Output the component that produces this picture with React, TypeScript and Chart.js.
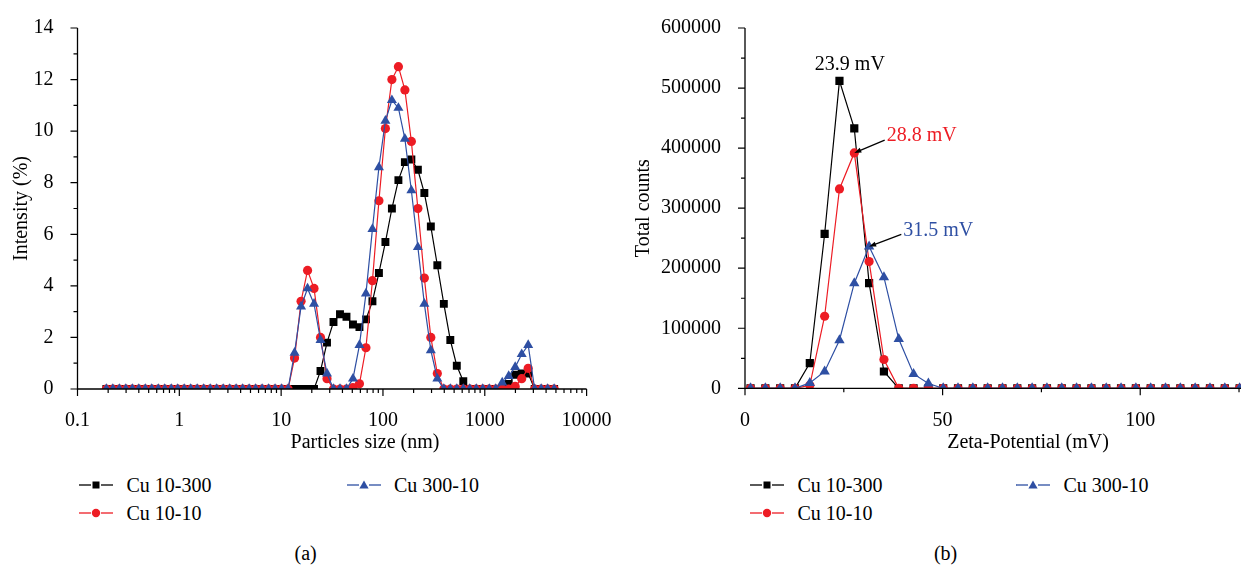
import { useEffect, useRef } from 'react';
import { Chart, registerables } from 'chart.js';

Chart.register(...registerables);

const SERIF = '"Liberation Serif", "Times New Roman", Times, serif';
const BLACK = '#000000';
const RED = '#ed1c24';
const BLUE = '#2e4fa3';

const seriesNames = ['Cu 10-300', 'Cu 10-10', 'Cu 300-10'];

// (a) Size distribution by intensity: size classes in nm
const sizeClasses = [
  0.1921, 0.2224, 0.2576, 0.2984, 0.3456, 0.4, 0.4632, 0.5365, 0.6213, 0.7195,
  0.8332, 0.9649, 1.117, 1.294, 1.499, 1.736, 2.01, 2.328, 2.696, 3.122,
  3.615, 4.187, 4.849, 5.615, 6.503, 7.531, 8.721, 10.1, 11.7, 13.54,
  15.69, 18.17, 21.04, 24.36, 28.21, 32.67, 37.84, 43.82, 50.75, 58.77,
  68.06, 78.82, 91.28, 105.7, 122.4, 141.8, 164.2, 190.1, 220.2, 255.0,
  295.3, 342.0, 396.1, 458.7, 531.2, 615.1, 712.4, 825.0, 955.4, 1106,
  1281, 1484, 1718, 1990, 2305, 2669, 3091, 3580, 4145, 4801,
];

// Intensity (%) per size class
const intensity10_300 = [
  0, 0, 0, 0, 0, 0, 0, 0, 0, 0,
  0, 0, 0, 0, 0, 0, 0, 0, 0, 0,
  0, 0, 0, 0, 0, 0, 0, 0, 0, 0,
  0, 0, 0, 0.7, 1.8, 2.6, 2.9, 2.8, 2.5, 2.4,
  2.7, 3.4, 4.5, 5.7, 7.0, 8.1, 8.8, 8.9, 8.5, 7.6,
  6.3, 4.8, 3.3, 1.9, 0.9, 0.3, 0, 0, 0, 0,
  0, 0, 0.2, 0.55, 0.6, 0.6, 0, 0, 0, 0,
];
const intensity10_10 = [
  0, 0, 0, 0, 0, 0, 0, 0, 0, 0,
  0, 0, 0, 0, 0, 0, 0, 0, 0, 0,
  0, 0, 0, 0, 0, 0, 0, 0, 0, 1.2,
  3.4, 4.6, 3.9, 2.0, 0.4, 0, 0, 0, 0.05, 0.2,
  1.6, 4.2, 7.3, 10.1, 12.0, 12.5, 11.6, 9.6, 7.0, 4.3,
  2.0, 0.6, 0, 0, 0, 0, 0, 0, 0, 0,
  0, 0, 0, 0.1, 0.4, 0.8, 0, 0, 0, 0,
];
const intensity300_10 = [
  0, 0, 0, 0, 0, 0, 0, 0, 0, 0,
  0, 0, 0, 0, 0, 0, 0, 0, 0, 0,
  0, 0, 0, 0, 0, 0, 0, 0, 0, 1.4,
  3.2, 3.9, 3.3, 1.9, 0.6, 0, 0, 0, 0.4, 1.7,
  3.7, 6.2, 8.6, 10.4, 11.2, 10.9, 9.7, 7.7, 5.5, 3.3,
  1.5, 0.4, 0, 0, 0, 0, 0, 0, 0, 0,
  0, 0.25, 0.5, 0.85, 1.35, 1.7, 0, 0, 0, 0,
];
const sizeDecades = [0.1, 1, 10, 100, 1000, 10000];

// (b) Zeta potential distribution: classes in mV
const zetaClasses = [
  1.4, 5.15, 8.9, 12.65, 16.4, 20.15, 23.9, 27.65, 31.4, 35.15,
  38.9, 42.65, 46.4, 50.15, 53.9, 57.65, 61.4, 65.15, 68.9, 72.65,
  76.4, 80.15, 83.9, 87.65, 91.4, 95.15, 98.9, 102.65, 106.4, 110.15,
  113.9, 117.65, 121.4, 125.15,
];
const counts10_300 = [
  0, 0, 0, 0, 42000, 257000, 512000, 433000, 175000, 28000,
  0, 0, 0, 0, 0, 0, 0, 0, 0, 0,
  0, 0, 0, 0, 0, 0, 0, 0, 0, 0,
  0, 0, 0, 0,
];
const counts10_10 = [
  0, 0, 0, 0, 5000, 120000, 332000, 392000, 211000, 48000,
  0, 0, 0, 0, 0, 0, 0, 0, 0, 0,
  0, 0, 0, 0, 0, 0, 0, 0, 0, 0,
  0, 0, 0, 0,
];
const counts300_10 = [
  0, 0, 0, 0, 9000, 28000, 80000, 175000, 236000, 185000,
  82000, 24000, 8000, 0, 0, 0, 0, 0, 0, 0,
  0, 0, 0, 0, 0, 0, 0, 0, 0, 0,
  0, 0, 0, 0,
];
const zetaPeakLabels = ['23.9 mV', '28.8 mV', '31.5 mV'];
const zetaMajorTicks = [0, 50, 100];
const zetaMinorTicks = [25, 75, 125];

const pts = (xs: number[], ys: number[]) => xs.map((x, i) => ({ x, y: ys[i] }));

type Decor = {
  xTitle: string;
  yTitle: string;
  xTitleX: number;
  xTitleY: number;
  yTitleX: number;
  xMajor: number[];
  xMinor: number[];
  yMinorStep: number;
};

// Axis lines, outward tick marks and axis titles
const axisDecor = {
  id: 'axisDecor',
  afterDraw(chart: any, _a: any, o: Decor) {
    const { ctx, chartArea: a } = chart;
    const xs = chart.scales.x;
    const ys = chart.scales.y;
    ctx.save();
    ctx.strokeStyle = '#000';
    ctx.lineWidth = 1.3;
    ctx.beginPath();
    ctx.moveTo(a.left, a.top);
    ctx.lineTo(a.left, a.bottom);
    ctx.lineTo(a.right, a.bottom);
    ctx.stroke();

    ctx.lineWidth = 1.2;
    ctx.beginPath();
    const xTick = (v: number, len: number) => {
      const p = xs.getPixelForValue(v);
      if (p < a.left - 0.5 || p > a.right + 0.5) return;
      ctx.moveTo(p, a.bottom);
      ctx.lineTo(p, a.bottom + len);
    };
    o.xMajor.forEach((v) => xTick(v, 7));
    o.xMinor.forEach((v) => xTick(v, 4));
    const yMajors = ys.ticks.map((t: any) => t.value);
    yMajors.forEach((v: number) => {
      const p = ys.getPixelForValue(v);
      ctx.moveTo(a.left, p);
      ctx.lineTo(a.left - 7, p);
    });
    for (let v = ys.min; v <= ys.max + 1e-9; v += o.yMinorStep) {
      if (yMajors.some((m: number) => Math.abs(m - v) < 1e-9)) continue;
      const p = ys.getPixelForValue(v);
      ctx.moveTo(a.left, p);
      ctx.lineTo(a.left - 4, p);
    }
    ctx.stroke();

    ctx.fillStyle = '#000';
    ctx.font = `20px ${SERIF}`;
    ctx.textAlign = 'center';
    ctx.textBaseline = 'middle';
    ctx.fillText(o.xTitle, o.xTitleX, o.xTitleY);
    ctx.translate(o.yTitleX, (a.top + a.bottom) / 2);
    ctx.rotate(-Math.PI / 2);
    ctx.fillText(o.yTitle, 0, 0);
    ctx.restore();
  },
};

type Note = { ds: number; values: number[]; text: string; color: string; dx: number; dy: number; arrow: boolean };

// Peak labels with leader arrows
const peakNotes = {
  id: 'peakNotes',
  afterDatasetsDraw(chart: any, _a: any, o: { notes: Note[] }) {
    if (!o || !o.notes) return;
    const { ctx } = chart;
    ctx.save();
    ctx.font = `20px ${SERIF}`;
    ctx.textBaseline = 'middle';
    o.notes.forEach((n) => {
      let k = 0;
      n.values.forEach((v, i) => {
        if (v > n.values[k]) k = i;
      });
      const el = chart.getDatasetMeta(n.ds).data[k];
      const px = el.x;
      const py = el.y;
      ctx.fillStyle = n.color;
      if (!n.arrow) {
        ctx.textAlign = 'center';
        ctx.fillText(n.text, px + n.dx, py + n.dy);
        return;
      }
      ctx.textAlign = 'left';
      const tx = px + n.dx;
      const ty = py + n.dy;
      ctx.fillText(n.text, tx, ty);
      const sx = tx - 2;
      const sy = ty + 4;
      const ang = Math.atan2(py - sy, px - sx);
      ctx.strokeStyle = '#000';
      ctx.fillStyle = '#000';
      ctx.lineWidth = 1.2;
      ctx.beginPath();
      ctx.moveTo(sx, sy);
      ctx.lineTo(px - Math.cos(ang) * 4, py - Math.sin(ang) * 4);
      ctx.stroke();
      ctx.beginPath();
      ctx.moveTo(px, py);
      ctx.lineTo(px - Math.cos(ang) * 7 + Math.sin(ang) * 2.6, py - Math.sin(ang) * 7 - Math.cos(ang) * 2.6);
      ctx.lineTo(px - Math.cos(ang) * 7 - Math.sin(ang) * 2.6, py - Math.sin(ang) * 7 + Math.cos(ang) * 2.6);
      ctx.closePath();
      ctx.fill();
    });
    ctx.restore();
  },
};

const tickFont = { family: SERIF, size: 20 };

function lineSet(label: string, data: any[], color: string, style: string, radius: number, order: number) {
  return {
    label,
    data,
    borderColor: color,
    backgroundColor: color,
    borderWidth: 1.2,
    pointStyle: style,
    pointRadius: radius,
    pointBorderWidth: 0,
    pointBackgroundColor: color,
    tension: 0,
    clip: 0,
    order,
  };
}

function sizeConfig(): any {
  const minor: number[] = [];
  for (let d = -1; d < 4; d++) for (let m = 2; m < 10; m++) minor.push(m * Math.pow(10, d));
  return {
    type: 'line',
    data: {
      datasets: [
        lineSet(seriesNames[0], pts(sizeClasses, intensity10_300), BLACK, 'rect', 5.6, 2),
        lineSet(seriesNames[1], pts(sizeClasses, intensity10_10), RED, 'circle', 4.6, 1),
        lineSet(seriesNames[2], pts(sizeClasses, intensity300_10), BLUE, 'triangle', 5.8, 0),
      ],
    },
    options: {
      animation: false,
      responsive: false,
      maintainAspectRatio: false,
      devicePixelRatio: 1,
      layout: { padding: { left: 0, top: 14, right: 53.4, bottom: 31 } },
      plugins: {
        legend: { display: false },
        tooltip: { enabled: false },
        axisDecor: {
          xTitle: 'Particles size (nm)',
          yTitle: 'Intensity (%)',
          xTitleX: 365,
          xTitleY: 443,
          yTitleX: 22,
          xMajor: sizeDecades,
          xMinor: minor,
          yMinorStep: 1,
        },
      },
      scales: {
        x: {
          type: 'logarithmic',
          min: 0.1,
          max: 10000,
          grid: { display: false },
          border: { display: false },
          afterFit: (s: any) => { s.height = 50; },
          afterBuildTicks: (s: any) => { s.ticks = sizeDecades.map((v) => ({ value: v })); },
          ticks: {
            autoSkip: false,
            maxRotation: 0,
            padding: 12,
            color: '#000',
            font: tickFont,
            callback: (v: any) => String(v),
          },
        },
        y: {
          min: 0,
          max: 14,
          grid: { display: false },
          border: { display: false },
          afterFit: (s: any) => { s.width = 77.5; },
          ticks: { stepSize: 2, padding: 16, color: '#000', font: tickFont },
        },
      },
    },
    plugins: [axisDecor],
  };
}

function zetaConfig(): any {
  return {
    type: 'line',
    data: {
      datasets: [
        lineSet(seriesNames[0], pts(zetaClasses, counts10_300), BLACK, 'rect', 5.8, 2),
        lineSet(seriesNames[1], pts(zetaClasses, counts10_10), RED, 'circle', 4.6, 1),
        lineSet(seriesNames[2], pts(zetaClasses, counts300_10), BLUE, 'triangle', 6.0, 0),
      ],
    },
    options: {
      animation: false,
      responsive: false,
      maintainAspectRatio: false,
      devicePixelRatio: 1,
      layout: { padding: { left: 0, top: 16, right: 0, bottom: 31.7 } },
      plugins: {
        legend: { display: false },
        tooltip: { enabled: false },
        axisDecor: {
          xTitle: 'Zeta-Potential (mV)',
          yTitle: 'Total counts',
          xTitleX: 408,
          xTitleY: 443,
          yTitleX: 24,
          xMajor: zetaMajorTicks,
          xMinor: zetaMinorTicks,
          yMinorStep: 50000,
        },
        peakNotes: {
          notes: [
            { ds: 0, values: counts10_300, text: zetaPeakLabels[0], color: BLACK, dx: 10.4, dy: -16.3, arrow: false },
            { ds: 1, values: counts10_10, text: zetaPeakLabels[1], color: RED, dx: 32.4, dy: -16.8, arrow: true },
            { ds: 2, values: counts300_10, text: zetaPeakLabels[2], color: BLUE, dx: 34.2, dy: -16.2, arrow: true },
          ],
        },
      },
      scales: {
        x: {
          type: 'linear',
          min: 0,
          max: 125.5,
          grid: { display: false },
          border: { display: false },
          afterFit: (s: any) => { s.height = 50; },
          afterBuildTicks: (s: any) => { s.ticks = zetaMajorTicks.map((v) => ({ value: v })); },
          ticks: { autoSkip: false, maxRotation: 0, padding: 12, color: '#000', font: tickFont },
        },
        y: {
          min: 0,
          max: 600000,
          grid: { display: false },
          border: { display: false },
          afterFit: (s: any) => { s.width = 125; },
          ticks: { stepSize: 100000, padding: 16, color: '#000', font: tickFont, callback: (v: any) => String(v) },
        },
      },
    },
    plugins: [axisDecor, peakNotes],
  };
}

function ChartCanvas({ make, left, width, height }: { make: () => any; left: number; width: number; height: number }) {
  const ref = useRef<HTMLCanvasElement>(null);
  useEffect(() => {
    const chart = new Chart(ref.current as HTMLCanvasElement, make());
    return () => chart.destroy();
  }, [make]);
  return (
    <canvas
      ref={ref}
      width={width}
      height={height}
      style={{ position: 'absolute', left, top: 0, width, height }}
    />
  );
}

function Key({ marker, color }: { marker: string; color: string }) {
  return (
    <svg width={34} height={14} style={{ display: 'block' }}>
      <line x1={0} y1={7} x2={12} y2={7} stroke={color} strokeWidth={1.3} />
      <line x1={22} y1={7} x2={34} y2={7} stroke={color} strokeWidth={1.3} />
      {marker === 'rect' && <rect x={13.5} y={3.5} width={7} height={7} fill={color} />}
      {marker === 'circle' && <circle cx={17} cy={7} r={4.2} fill={color} />}
      {marker === 'triangle' && <polygon points="17,2.5 21.6,10.5 12.4,10.5" fill={color} />}
    </svg>
  );
}

function LegendItem({ x, y, marker, color, label }: { x: number; y: number; marker: string; color: string; label: string }) {
  return (
    <div style={{ position: 'absolute', left: x, top: y - 12, height: 24, display: 'flex', alignItems: 'center' }}>
      <Key marker={marker} color={color} />
      <span style={{ marginLeft: 13.5, font: `20px ${SERIF}`, lineHeight: '24px', color: '#000', whiteSpace: 'nowrap' }}>
        {label}
      </span>
    </div>
  );
}

function Legend({ x0, x1 }: { x0: number; x1: number }) {
  return (
    <>
      <LegendItem x={x0} y={485} marker="rect" color={BLACK} label={seriesNames[0]} />
      <LegendItem x={x1} y={485} marker="triangle" color={BLUE} label={seriesNames[2]} />
      <LegendItem x={x0} y={512.5} marker="circle" color={RED} label={seriesNames[1]} />
    </>
  );
}

function Caption({ cx, text }: { cx: number; text: string }) {
  return (
    <div
      style={{
        position: 'absolute',
        left: cx - 50,
        width: 100,
        top: 540.5,
        textAlign: 'center',
        font: `20px ${SERIF}`,
        lineHeight: '24px',
        color: '#000',
      }}
    >
      {text}
    </div>
  );
}

export default function App() {
  return (
    <div
      style={{
        position: 'fixed',
        left: 0,
        top: 0,
        width: 1247,
        height: 569,
        overflow: 'hidden',
        background: '#fff',
      }}
    >
      <ChartCanvas make={sizeConfig} left={0} width={640} height={470} />
      <ChartCanvas make={zetaConfig} left={620} width={627} height={470} />
      <Legend x0={79} x1={346.5} />
      <Legend x0={750} x1={1016} />
      <Caption cx={305.6} text="(a)" />
      <Caption cx={945.6} text="(b)" />
    </div>
  );
}
